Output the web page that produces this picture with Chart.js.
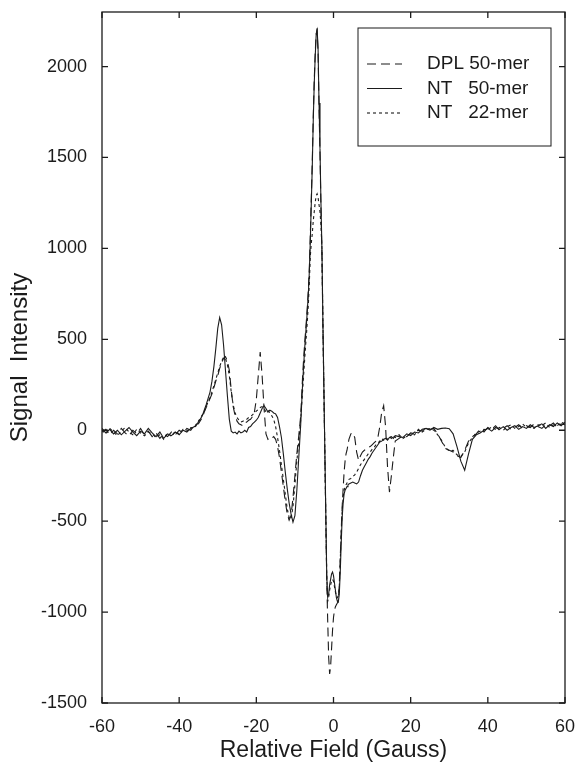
<!DOCTYPE html>
<html>
<head>
<meta charset="utf-8">
<script src="https://cdn.jsdelivr.net/npm/chart.js@4.4.0/dist/chart.umd.min.js"></script>
<style>
  html, body { margin: 0; padding: 0; background: #fff; }
</style>
</head>
<body>
<canvas id="esrChart" width="576" height="762"></canvas>
<script>
// Relative field (Gauss) shared by all three spectra
const field = [
  -60,-59,-58,-57,-56,-55,-54,-53,-52,-51,-50,-49,-48,-47,-46,-45,-44,-43,-42,-41,-40,-39,-38,-37,-36,-35,-34,
  -33.5,-33,-32.5,-32,-31.5,-31,-30.5,-30,-29.5,-29,-28.5,-28,-27.5,-27,-26.5,-26,-25.5,-25,-24.5,-24,-23.5,-23,-22.5,-22,
  -21.5,-21,-20.5,-20,-19.5,-19,-18.5,-18,-17.5,-17,-16.5,-16,-15.5,-15,-14.5,-14,-13.5,-13,-12.5,-12,-11.5,-11,-10.5,-10,
  -9.5,-9,-8.5,
  -8,-7.75,-7.5,-7.25,-7,-6.75,-6.5,-6.25,-6,-5.75,-5.5,-5.25,-5,-4.75,-4.5,-4.25,-4,-3.75,-3.5,-3.25,-3,-2.75,-2.5,-2.25,
  -2,-1.75,-1.5,-1.25,-1,-0.75,-0.5,-0.25,0,0.25,0.5,0.75,1,1.25,1.5,1.75,2,2.25,2.5,2.75,3,3.25,3.5,3.75,4,
  4.5,5,5.5,6,6.5,7,7.5,8,8.5,9,9.5,10,10.5,11,11.5,12,12.5,13,13.5,14,14.5,15,15.5,16,
  17,18,19,20,21,22,23,24,25,26,27,28,29,30,31,32,33,34,35,36,37,38,39,40,41,42,43,44,45,46,47,48,49,50,
  51,52,53,54,55,56,57,58,59,60
];

const dplFifty = [
  -10,5,-25,0,-20,10,-15,-30,0,-20,10,-25,-5,-35,-15,-45,-20,-35,-10,-25,0,-15,10,0,30,35,70,
  100,125,150,175,200,235,270,300,340,370,395,405,380,330,220,130,80,50,35,30,25,40,45,55,60,75,100,170,300,430,
  300,120,-20,-50,-40,-45,-35,-50,-90,-150,-230,-310,-390,-460,-495,-470,-370,-250,-130,-30,80,
  300,390,470,540,610,690,780,900,1080,1280,1480,1720,1920,2070,2180,2200,2080,1780,1520,1220,970,580,230,-120,
  -480,-830,-1050,-1250,-1340,-1300,-1200,-1100,-1030,-990,-970,-960,-950,-930,-850,-700,-550,-420,-320,-230,-170,-130,-110,-80,-50,
  -20,-15,-40,-120,-165,-140,-120,-110,-105,-95,-90,-80,-70,-60,-40,20,100,135,20,-200,-340,-250,-150,-60,
  -45,-30,-35,-15,-20,0,-5,15,5,10,-20,-60,-100,-110,-120,-140,-150,-110,-60,-35,-20,5,-10,15,5,25,0,10,25,5,15,30,10,25,
  15,35,20,10,30,25,40,15,35,30
];

const ntFifty = [
  10,-15,5,-20,0,-25,-5,15,-10,-30,-5,-20,10,-15,-35,-10,-45,-20,-30,-10,-25,0,-10,10,20,45,80,
  110,140,175,210,270,350,450,560,620,580,470,330,190,60,-5,-15,-10,-20,-5,-15,-10,0,-10,15,20,35,45,55,70,95,
  120,135,120,100,110,105,95,90,70,20,-40,-130,-230,-320,-400,-460,-505,-470,-330,-150,30,
  260,350,440,520,590,670,760,880,1050,1250,1450,1700,1900,2050,2170,2210,2100,1800,1550,1250,1000,600,250,-100,
  -450,-800,-920,-900,-850,-820,-790,-780,-800,-840,-880,-920,-940,-945,-900,-780,-620,-480,-400,-350,-330,-320,-310,-300,-295,
  -290,-285,-290,-295,-285,-250,-220,-200,-180,-160,-145,-125,-110,-95,-80,-65,-60,-50,-45,-55,-40,-35,-45,-30,
  -35,-40,-20,-30,-10,-15,5,10,0,15,5,10,12,8,-20,-90,-170,-220,-130,-50,-25,-15,0,10,-5,15,5,20,0,15,25,5,20,10,
  30,15,25,35,10,30,20,40,25,45
];

const ntTwentyTwo = [
  0,-20,10,-10,-30,-5,15,-10,-25,5,-15,-30,-10,-20,-40,-25,-50,-15,-35,-5,-20,5,-5,15,10,50,85,
  105,130,155,180,210,245,280,315,350,380,400,395,360,300,210,140,95,70,55,45,50,55,60,70,75,85,95,105,115,125,
  130,120,100,110,95,80,60,20,-40,-110,-190,-270,-350,-430,-480,-490,-420,-300,-170,-60,60,
  220,300,380,460,530,610,700,820,960,1030,1080,1150,1200,1250,1290,1300,1280,1240,1200,1130,1000,600,240,-110,
  -460,-800,-940,-920,-880,-850,-830,-820,-830,-860,-890,-910,-920,-910,-860,-720,-560,-440,-370,-330,-310,-300,-290,-280,-270,
  -265,-255,-245,-230,-210,-190,-175,-160,-145,-130,-120,-105,-95,-80,-70,-60,-45,-55,-40,-50,-35,-45,-30,-40,
  -25,-45,-30,-20,-25,5,-10,5,10,0,-25,-55,-95,-115,-110,-135,-145,-120,-70,-40,-15,-5,5,0,20,5,15,0,20,30,10,20,35,15,
  20,10,30,25,40,15,30,25,45,35
];

const xTicks = [-60, -40, -20, 0, 20, 40, 60];
const yTicks = [-1500, -1000, -500, 0, 500, 1000, 1500, 2000];
const seriesNames = ['DPL 50-mer', 'NT   50-mer', 'NT   22-mer'];

const ink = '#1b1b1b';
Chart.defaults.font.family = '"Liberation Sans", Arial, sans-serif';
Chart.defaults.color = ink;

function points(vals) {
  return field.map((f, i) => ({ x: f, y: vals[i] }));
}

// box round the plot, inward tick marks on all four sides
const frame = {
  id: 'frame',
  afterDraw(chart) {
    const { ctx, chartArea: a, scales } = chart;
    const len = 6;
    ctx.save();
    ctx.strokeStyle = ink;
    ctx.lineWidth = 1.3;
    ctx.strokeRect(a.left, a.top, a.right - a.left, a.bottom - a.top);
    ctx.beginPath();
    xTicks.forEach(v => {
      const px = scales.x.getPixelForValue(v);
      ctx.moveTo(px, a.bottom); ctx.lineTo(px, a.bottom - len);
      ctx.moveTo(px, a.top); ctx.lineTo(px, a.top + len);
    });
    yTicks.forEach(v => {
      const py = scales.y.getPixelForValue(v);
      ctx.moveTo(a.left, py); ctx.lineTo(a.left + len, py);
      ctx.moveTo(a.right, py); ctx.lineTo(a.right - len, py);
    });
    ctx.stroke();
    ctx.restore();
  }
};

// legend drawn inside the plot, top right
const boxLegend = {
  id: 'boxLegend',
  afterDraw(chart) {
    const { ctx, chartArea: a } = chart;
    const right = a.right - 14, left = right - 193;
    const top = a.top + 16, h = 118;
    ctx.save();
    ctx.fillStyle = '#fff';
    ctx.fillRect(left, top, right - left, h);
    ctx.strokeStyle = ink;
    ctx.lineWidth = 1;
    ctx.strokeRect(left, top, right - left, h);
    ctx.font = '19px "Liberation Sans", Arial, sans-serif';
    ctx.fillStyle = ink;
    ctx.textBaseline = 'middle';
    chart.data.datasets.forEach((ds, i) => {
      const y = top + 36 + i * 24.5;
      ctx.beginPath();
      ctx.setLineDash(ds.borderDash || []);
      ctx.lineWidth = 1.1;
      ctx.moveTo(left + 9, y);
      ctx.lineTo(left + 44, y);
      ctx.stroke();
      ctx.setLineDash([]);
      ctx.fillText(ds.label, left + 69, y);
    });
    ctx.restore();
  }
};

const ctx = document.getElementById('esrChart').getContext('2d');
new Chart(ctx, {
  type: 'line',
  data: {
    datasets: [
      { label: seriesNames[0], data: points(dplFifty), borderColor: ink, borderWidth: 1.1, borderDash: [9, 5], pointRadius: 0 },
      { label: seriesNames[1], data: points(ntFifty), borderColor: ink, borderWidth: 1.1, pointRadius: 0 },
      { label: seriesNames[2], data: points(ntTwentyTwo), borderColor: ink, borderWidth: 1.1, borderDash: [3, 3], pointRadius: 0 }
    ]
  },
  options: {
    responsive: false,
    animation: false,
    layout: { padding: { top: 12, right: 11, left: 0, bottom: 0 } },
    plugins: { legend: { display: false }, tooltip: { enabled: false } },
    scales: {
      x: {
        type: 'linear',
        min: -60,
        max: 60,
        afterBuildTicks: s => { s.ticks = xTicks.map(v => ({ value: v })); },
        afterFit: s => { s.height = 59; s.paddingLeft = 0; s.paddingRight = 0; },
        grid: { display: false },
        border: { display: false },
        ticks: { font: { size: 18 }, padding: 5, maxRotation: 0, callback: v => String(v) },
        title: { display: true, text: 'Relative Field (Gauss)', font: { size: 23, lineHeight: 1 }, padding: { top: 0, bottom: 0 } }
      },
      y: {
        min: -1500,
        max: 2300,
        afterBuildTicks: s => { s.ticks = yTicks.map(v => ({ value: v })); },
        afterFit: s => { s.width = 102; s.paddingTop = 0; s.paddingBottom = 0; },
        grid: { display: false },
        border: { display: false },
        ticks: { font: { size: 18 }, padding: 7, callback: v => String(v) },
        title: { display: true, text: 'Signal  Intensity', font: { size: 24, lineHeight: 1 }, padding: { top: 8, bottom: 0 } }
      }
    }
  },
  plugins: [frame, boxLegend]
});
</script>
</body>
</html>
